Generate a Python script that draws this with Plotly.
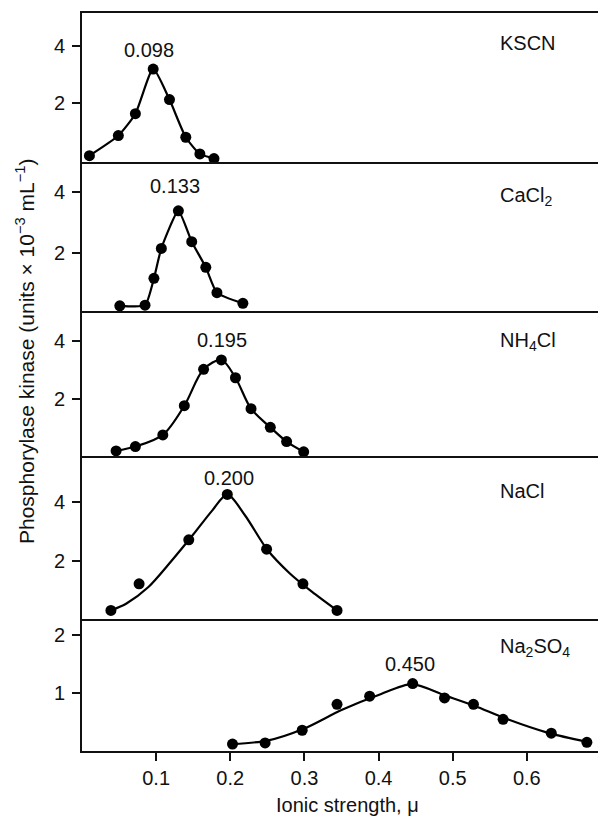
import plotly.graph_objects as go

# ---- data ----
salts = ["KSCN", "CaCl<sub>2</sub>", "NH<sub>4</sub>Cl", "NaCl", "Na<sub>2</sub>SO<sub>4</sub>"]
peak_labels = ["0.098", "0.133", "0.195", "0.200", "0.450"]

kscn_x = [0.010, 0.049, 0.072, 0.096, 0.118, 0.140, 0.159, 0.178]
kscn_y = [0.18, 0.88, 1.64, 3.19, 2.13, 0.82, 0.24, 0.08]

cacl2_x = [0.051, 0.085, 0.097, 0.107, 0.130, 0.148, 0.167, 0.182, 0.217]
cacl2_y = [0.26, 0.28, 1.16, 2.14, 3.37, 2.36, 1.52, 0.69, 0.34]

nh4cl_x = [0.046, 0.072, 0.109, 0.138, 0.164, 0.188, 0.207, 0.228, 0.254, 0.276, 0.299]
nh4cl_y = [0.23, 0.38, 0.78, 1.78, 3.03, 3.35, 2.74, 1.68, 1.04, 0.55, 0.20]

nacl_x = [0.039, 0.077, 0.144, 0.196, 0.249, 0.298, 0.344]
nacl_y = [0.31, 1.22, 2.72, 4.27, 2.40, 1.22, 0.31]
nacl_curve_x = [0.039, 0.060, 0.090, 0.120, 0.150, 0.175, 0.196, 0.220, 0.250, 0.280, 0.310, 0.344]
nacl_curve_y = [0.31, 0.55, 1.12, 1.98, 2.90, 3.70, 4.27, 3.55, 2.38, 1.58, 0.95, 0.31]

na2so4_x = [0.203, 0.247, 0.297, 0.344, 0.388, 0.446, 0.489, 0.528, 0.568, 0.633, 0.681]
na2so4_y = [0.11, 0.13, 0.35, 0.80, 0.94, 1.16, 0.91, 0.80, 0.54, 0.30, 0.14]
na2so4_curve_x = [0.203, 0.250, 0.300, 0.350, 0.400, 0.445, 0.490, 0.530, 0.570, 0.630, 0.681]
na2so4_curve_y = [0.11, 0.17, 0.38, 0.70, 0.96, 1.15, 0.95, 0.77, 0.56, 0.30, 0.15]

x_ticks = [0.1, 0.2, 0.3, 0.4, 0.5, 0.6]
x_tick_labels = ["0.1", "0.2", "0.3", "0.4", "0.5", "0.6"]
y_ticks = [[2, 4], [2, 4], [2, 4], [2, 4], [1, 2]]
y_ranges = [[-0.04, 5.14], [0.09, 4.97], [0.055, 5.03], [0.02, 5.58], [-0.01, 2.28]]

# ---- layout geometry ----
FONT = "Liberation Sans, Arial, Helvetica, sans-serif"
domains = [[0.7981, 1.0], [0.5962, 0.7981], [0.3997, 0.5962], [0.1789, 0.3997], [0.0, 0.1789]]
label_pos = [(0.0905, 3.85), (0.125, 4.19), (0.1885, 4.03), (0.1986, 4.83), (0.442, 1.50)]
salt_pos = [4.09, 3.83, 4.0, 4.39, 1.79]

fig = go.Figure()

point_sets = [(kscn_x, kscn_y), (cacl2_x, cacl2_y), (nh4cl_x, nh4cl_y), (nacl_x, nacl_y), (na2so4_x, na2so4_y)]
curve_sets = [(kscn_x, kscn_y, 0.6), (cacl2_x, cacl2_y, 0.5), (nh4cl_x, nh4cl_y, 0.9),
              (nacl_curve_x, nacl_curve_y, 0.8), (na2so4_curve_x, na2so4_curve_y, 0.8)]

for i in range(5):
    xa = "x" if i == 0 else f"x{i+1}"
    ya = "y" if i == 0 else f"y{i+1}"
    cx, cy, sm = curve_sets[i]
    fig.add_trace(go.Scatter(x=cx, y=cy, mode="lines", xaxis=xa, yaxis=ya,
                             line=dict(color="black", width=2.2, shape="spline", smoothing=sm),
                             showlegend=False, hoverinfo="skip", cliponaxis=False))
    px_, py_ = point_sets[i]
    fig.add_trace(go.Scatter(x=px_, y=py_, mode="markers", xaxis=xa, yaxis=ya,
                             marker=dict(color="black", size=11),
                             showlegend=False, cliponaxis=False))

layout = dict(
    width=598, height=817,
    margin=dict(l=82, r=0, t=13, b=66),
    paper_bgcolor="white", plot_bgcolor="white",
    font=dict(family=FONT, size=20, color="#111"),
    showlegend=False,
)

annotations = []
for i in range(5):
    n = "" if i == 0 else str(i + 1)
    xa = dict(domain=[0, 1], range=[0, 0.696], anchor="y" + n,
              showgrid=False, zeroline=False, showline=True, linecolor="#111", linewidth=2,
              fixedrange=True)
    if i == 4:
        xa.update(tickmode="array", tickvals=x_ticks, ticktext=x_tick_labels,
                  ticks="outside", ticklen=8, tickwidth=2, tickcolor="#111",
                  tickfont=dict(size=20, family=FONT))
    else:
        xa.update(showticklabels=False, ticks="")
    if i == 0:
        xa.update(mirror=True)
    ya = dict(domain=domains[i], range=y_ranges[i], anchor="x" + n,
              showgrid=False, zeroline=False, showline=True, linecolor="#111", linewidth=2,
              tickmode="array", tickvals=y_ticks[i], ticks="outside", ticklen=8, tickwidth=2,
              tickcolor="#111", tickfont=dict(size=20, family=FONT), ticklabelstandoff=3,
              fixedrange=True)
    layout["xaxis" + n] = xa
    layout["yaxis" + n] = ya

    lx, ly = label_pos[i]
    annotations.append(dict(x=lx, y=ly, xref="x" + n, yref="y" + n, text=peak_labels[i],
                            showarrow=False, font=dict(size=20, family=FONT, color="#111"),
                            xanchor="center", yanchor="middle"))
    annotations.append(dict(x=0.561, y=salt_pos[i], xref="x" + n, yref="y" + n, text=salts[i],
                            showarrow=False, font=dict(size=20, family=FONT, color="#111"),
                            xanchor="left", yanchor="middle"))

annotations.append(dict(x=(347 - 82) / 516, y=(751 - 805) / 738, xref="paper", yref="paper",
                        text="Ionic strength, μ", showarrow=False,
                        font=dict(size=20, family=FONT, color="#111"),
                        xanchor="center", yanchor="middle"))
annotations.append(dict(x=(25 - 82) / 516, y=(751 - 352) / 738, xref="paper", yref="paper",
                        text="Phosphorylase kinase (units × 10<sup>−3</sup> mL<sup>−1</sup>)",
                        showarrow=False, textangle=-90,
                        font=dict(size=21, family=FONT, color="#111"),
                        xanchor="center", yanchor="middle"))
layout["annotations"] = annotations

fig.update_layout(**layout)
fig.write_html("out.html")
